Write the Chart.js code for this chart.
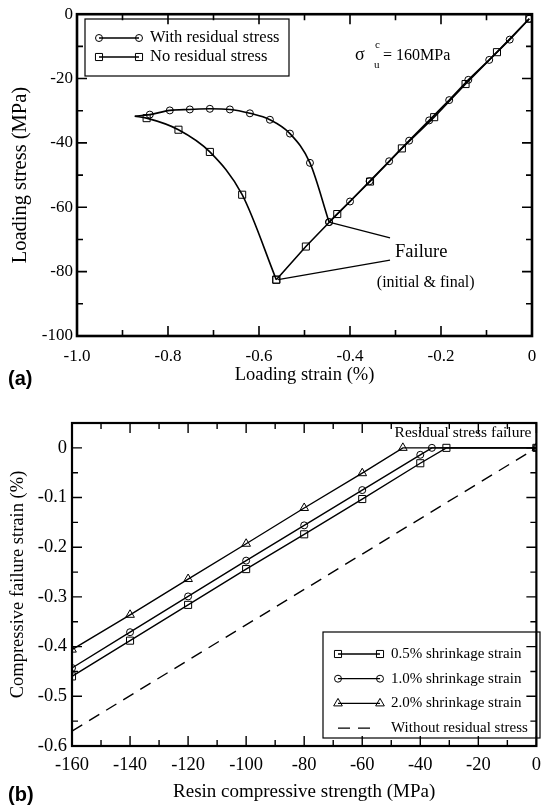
<!DOCTYPE html>
<html>
<head>
<meta charset="utf-8">
<script src="https://cdn.jsdelivr.net/npm/chart.js@4.4.1/dist/chart.umd.min.js"></script>
<style>
  html, body { margin: 0; padding: 0; background: #fff; }
  canvas { position: absolute; left: 0; }
  #chartA { top: 0; }
  #chartB { top: 400px; }
</style>
</head>
<body>
<canvas id="chartA" width="549" height="400"></canvas>
<canvas id="chartB" width="549" height="408"></canvas>
<script>
// ---------- (a) loading stress vs loading strain ----------
const withRsCurveStrain = [-0.873, -0.840, -0.796, -0.752, -0.708, -0.664, -0.620, -0.576, -0.532, -0.488, -0.446];
const withRsCurveStress = [-31.7, -31.2, -29.9, -29.6, -29.4, -29.6, -30.8, -32.8, -37.1, -46.2, -64.6];
const withRsLinStrain = [-0.446, -0.400, -0.357, -0.314, -0.270, -0.226, -0.182, -0.140, -0.094, -0.049, -0.006];
const withRsLinStress = [-64.6, -58.2, -51.9, -45.7, -39.3, -33.0, -26.7, -20.4, -14.2, -7.9, -1.4];
const noRsCurveStrain = [-0.873, -0.847, -0.777, -0.708, -0.637, -0.562];
const noRsCurveStress = [-31.7, -32.3, -35.9, -42.8, -56.1, -82.5];
const noRsLinStrain = [-0.562, -0.497, -0.428, -0.356, -0.286, -0.215, -0.146, -0.077, -0.006];
const noRsLinStress = [-82.5, -72.2, -62.1, -52.0, -41.7, -32.0, -21.7, -11.8, -1.4];

const xTicksA = [-1.0, -0.8, -0.6, -0.4, -0.2, 0];
const xTickLabelsA = ['-1.0', '-0.8', '-0.6', '-0.4', '-0.2', '0'];
const yTicksA = [-100, -80, -60, -40, -20, 0];
const yTickLabelsA = ['-100', '-80', '-60', '-40', '-20', '0'];
const legendLabelsA = ['With residual stress', 'No residual stress'];

// ---------- (b) failure strain vs resin strength ----------
const shrink05Strength = [-160, -140, -120, -100, -80, -60, -40, -31, 0];
const shrink05Strain = [-0.460, -0.388, -0.316, -0.244, -0.174, -0.103, -0.031, 0, 0];
const shrink10Strength = [-160, -140, -120, -100, -80, -60, -40, -36, 0];
const shrink10Strain = [-0.443, -0.371, -0.299, -0.227, -0.156, -0.085, -0.014, 0, 0];
const shrink20Strength = [-160, -140, -120, -100, -80, -60, -46, 0];
const shrink20Strain = [-0.406, -0.336, -0.264, -0.193, -0.121, -0.051, 0, 0];
const plainStrength = [-160, 0];
const plainStrain = [-0.57, 0];

const xTicksB = [-160, -140, -120, -100, -80, -60, -40, -20, 0];
const xTickLabelsB = ['-160', '-140', '-120', '-100', '-80', '-60', '-40', '-20', '0'];
const yTicksB = [-0.6, -0.5, -0.4, -0.3, -0.2, -0.1, 0];
const yTickLabelsB = ['-0.6', '-0.5', '-0.4', '-0.3', '-0.2', '-0.1', '0'];
const legendLabelsB = ['0.5% shrinkage strain', '1.0% shrinkage strain', '2.0% shrinkage strain', 'Without residual stress'];

const SERIF = '"Liberation Serif", "Times New Roman", serif';

function pts(xs, ys) {
  return xs.map((v, i) => ({ x: v, y: ys[i] }));
}

function marker(ctx, style, r, x, y) {
  ctx.beginPath();
  if (style === 'circle') {
    ctx.arc(x, y, r, 0, Math.PI * 2);
  } else if (style === 'rect') {
    const s = r * Math.SQRT1_2;
    ctx.rect(x - s, y - s, 2 * s, 2 * s);
  } else if (style === 'triangle') {
    ctx.moveTo(x, y - r);
    ctx.lineTo(x + r * 0.866, y + r * 0.5);
    ctx.lineTo(x - r * 0.866, y + r * 0.5);
    ctx.closePath();
  }
  ctx.stroke();
}

// frame with inward ticks, legend box, notes
const decor = {
  id: 'decor',
  afterDraw(chart, args, o) {
    const ctx = chart.ctx;
    const a = chart.chartArea;
    const xs = chart.scales.x, ys = chart.scales.y;
    ctx.save();
    ctx.strokeStyle = '#000';
    ctx.fillStyle = '#000';

    // ticks
    ctx.lineWidth = o.tickWidth;
    const eps = 1e-9;
    for (let v = o.xMin; v <= o.xMax + eps; v += o.xMinor) {
      const px = xs.getPixelForValue(v);
      const major = Math.abs(v / o.xMajor - Math.round(v / o.xMajor)) < 1e-6;
      const len = major ? 10 : 6;
      ctx.beginPath();
      ctx.moveTo(px, a.bottom); ctx.lineTo(px, a.bottom - len);
      ctx.moveTo(px, a.top); ctx.lineTo(px, a.top + len);
      ctx.stroke();
    }
    for (let v = o.yMin; v <= o.yMax + eps; v += o.yMinor) {
      const py = ys.getPixelForValue(v);
      const major = Math.abs(v / o.yMajor - Math.round(v / o.yMajor)) < 1e-6;
      const len = major ? 10 : 6;
      ctx.beginPath();
      ctx.moveTo(a.left, py); ctx.lineTo(a.left + len, py);
      ctx.moveTo(a.right, py); ctx.lineTo(a.right - len, py);
      ctx.stroke();
    }
    ctx.lineWidth = o.frameWidth;
    ctx.strokeRect(a.left, a.top, a.right - a.left, a.bottom - a.top);

    // legend
    const L = o.legend;
    ctx.lineWidth = 1.2;
    ctx.strokeRect(L.left, L.top, L.width, L.height);
    L.items.forEach((it, i) => {
      const cy = L.firstRow + i * L.rowGap;
      ctx.lineWidth = 1.3;
      ctx.setLineDash(it.dash || []);
      ctx.beginPath();
      ctx.moveTo(L.x0, cy); ctx.lineTo(it.end || L.x1, cy);
      ctx.stroke();
      ctx.setLineDash([]);
      if (it.pointStyle) {
        ctx.lineWidth = 1;
        marker(ctx, it.pointStyle, it.radius, L.x0, cy);
        marker(ctx, it.pointStyle, it.radius, L.x1, cy);
      }
      ctx.font = L.font;
      ctx.textAlign = 'left';
      ctx.textBaseline = 'middle';
      ctx.fillText(it.text, L.textX, cy);
    });

    // leader lines
    ctx.lineWidth = 1.2;
    (o.leaders || []).forEach(l => {
      ctx.beginPath();
      ctx.moveTo(xs.getPixelForValue(l[0]), ys.getPixelForValue(l[1]));
      ctx.lineTo(xs.getPixelForValue(l[2]), ys.getPixelForValue(l[3]));
      ctx.stroke();
    });

    // text notes
    (o.notes || []).forEach(n => {
      ctx.font = n.font;
      ctx.textAlign = n.align || 'left';
      ctx.textBaseline = 'middle';
      ctx.fillText(n.text, xs.getPixelForValue(n.x) + (n.dx || 0), ys.getPixelForValue(n.y) + (n.dy || 0));
    });

    // panel label
    ctx.font = 'bold 20px "Liberation Sans", Arial, sans-serif';
    ctx.textAlign = 'left';
    ctx.textBaseline = 'middle';
    ctx.fillText(o.panel[0], o.panel[1], o.panel[2]);
    ctx.restore();
  }
};

function lineSet(xs, ys, style, radius, opts) {
  return Object.assign({
    data: pts(xs, ys),
    borderColor: '#000',
    borderWidth: 1.6,
    pointStyle: style,
    pointRadius: radius,
    pointBorderWidth: 1,
    pointBorderColor: '#000',
    pointBackgroundColor: 'rgba(0,0,0,0)',
    fill: false,
    tension: 0
  }, opts || {});
}

function fixedTicks(values) {
  return scale => { scale.ticks = values.map(v => ({ value: v })); };
}

// ---------- chart (a) ----------
new Chart(document.getElementById('chartA'), {
  type: 'line',
  data: {
    datasets: [
      lineSet(withRsCurveStrain, withRsCurveStress, 'circle',
        withRsCurveStrain.map((v, i) => i === 0 ? 0 : 3.5), { cubicInterpolationMode: 'monotone' }),
      lineSet(withRsLinStrain, withRsLinStress, 'circle', 3.5),
      lineSet(noRsCurveStrain, noRsCurveStress, 'rect',
        noRsCurveStrain.map((v, i) => i === 0 ? 0 : 5), { cubicInterpolationMode: 'monotone' }),
      lineSet(noRsLinStrain, noRsLinStress, 'rect', 5)
    ]
  },
  options: {
    responsive: false,
    animation: false,
    layout: { padding: { left: 0, right: 17, top: 11, bottom: 0 } },
    plugins: {
      legend: { display: false },
      tooltip: { enabled: false },
      decor: {
        xMin: -1, xMax: 0, xMinor: 0.1, xMajor: 0.2,
        yMin: -100, yMax: 0, yMinor: 10, yMajor: 20,
        tickWidth: 1.6, frameWidth: 2.6,
        legend: {
          left: 85, top: 19, width: 204, height: 57,
          firstRow: 38, rowGap: 19, x0: 99, x1: 139, textX: 150,
          font: '16.5px ' + SERIF,
          items: [
            { text: legendLabelsA[0], pointStyle: 'circle', radius: 3.5 },
            { text: legendLabelsA[1], pointStyle: 'rect', radius: 5 }
          ]
        },
        leaders: [
          [-0.446, -64.6, -0.312, -69.5],
          [-0.558, -82.5, -0.312, -76.4]
        ],
        notes: [
          { text: 'Failure', x: -0.301, y: -73.8, font: '18.5px ' + SERIF },
          { text: '(initial & final)', x: -0.341, y: -83.4, font: '16px ' + SERIF },
          { text: 'σ', x: -0.389, y: -12.8, font: '18px ' + SERIF },
          { text: 'c', x: -0.389, y: -12.8, dx: 20, dy: -10, font: '11px ' + SERIF },
          { text: 'u', x: -0.389, y: -12.8, dx: 19, dy: 10, font: '11px ' + SERIF },
          { text: '= 160MPa', x: -0.389, y: -12.8, dx: 28, font: '16px ' + SERIF }
        ],
        panel: ['(a)', 8, 379]
      }
    },
    scales: {
      x: {
        type: 'linear', min: -1, max: 0,
        afterFit: s => { s.height = 64; },
        afterBuildTicks: fixedTicks(xTicksA),
        grid: { display: false, drawTicks: false },
        border: { display: false },
        ticks: {
          padding: 10, color: '#000', maxRotation: 0,
          font: { family: SERIF, size: 17 },
          callback: (v, i) => xTickLabelsA[i]
        },
        title: {
          display: true, text: 'Loading strain (%)', color: '#000',
          font: { family: SERIF, size: 18.5 }, padding: { top: 0, bottom: 14 }
        }
      },
      y: {
        type: 'linear', min: -100, max: 0,
        afterFit: s => { s.width = 77; },
        afterBuildTicks: fixedTicks(yTicksA),
        grid: { display: false, drawTicks: false },
        border: { display: false },
        ticks: {
          padding: 4, color: '#000',
          font: { family: SERIF, size: 17 },
          callback: (v, i) => yTickLabelsA[i]
        },
        title: {
          display: true, text: 'Loading stress (MPa)', color: '#000',
          font: { family: SERIF, size: 20.5 }, padding: { top: 8, bottom: 0 }
        }
      }
    }
  },
  plugins: [decor]
});

// ---------- chart (b) ----------
new Chart(document.getElementById('chartB'), {
  type: 'line',
  data: {
    datasets: [
      lineSet(shrink05Strength, shrink05Strain, 'rect', 5, { borderWidth: 1.4 }),
      lineSet(shrink10Strength, shrink10Strain, 'circle', 3.5, { borderWidth: 1.4 }),
      lineSet(shrink20Strength, shrink20Strain, 'triangle', 5, { borderWidth: 1.4 }),
      lineSet(plainStrength, plainStrain, 'circle', 0, { borderWidth: 1.4, borderDash: [12, 8] })
    ]
  },
  options: {
    responsive: false,
    animation: false,
    layout: { padding: { left: 0, right: 6, top: 23, bottom: 0 } },
    plugins: {
      legend: { display: false },
      tooltip: { enabled: false },
      decor: {
        xMin: -160, xMax: 0, xMinor: 10, xMajor: 20,
        yMin: -0.6, yMax: 0.05, yMinor: 0.05, yMajor: 0.1,
        tickWidth: 1.4, frameWidth: 2.2,
        legend: {
          left: 323, top: 232, width: 217, height: 106,
          firstRow: 254, rowGap: 24.7, x0: 338, x1: 380, textX: 391,
          font: '15px ' + SERIF,
          items: [
            { text: legendLabelsB[0], pointStyle: 'rect', radius: 5 },
            { text: legendLabelsB[1], pointStyle: 'circle', radius: 3.5 },
            { text: legendLabelsB[2], pointStyle: 'triangle', radius: 5 },
            { text: legendLabelsB[3], dash: [12, 8], end: 371 }
          ]
        },
        notes: [
          { text: 'Residual stress failure', x: -1.7, y: 0.030, align: 'right', font: '15.5px ' + SERIF }
        ],
        panel: ['(b)', 8, 395]
      }
    },
    scales: {
      x: {
        type: 'linear', min: -160, max: 0,
        afterFit: s => { s.height = 62; },
        afterBuildTicks: fixedTicks(xTicksB),
        grid: { display: false, drawTicks: false },
        border: { display: false },
        ticks: {
          padding: 8, color: '#000', maxRotation: 0,
          font: { family: SERIF, size: 18.5 },
          callback: (v, i) => xTickLabelsB[i]
        },
        title: {
          display: true, text: 'Resin compressive strength (MPa)', color: '#000',
          font: { family: SERIF, size: 19 }, padding: { top: 0, bottom: 5 }
        }
      },
      y: {
        type: 'linear', min: -0.6, max: 0.05,
        afterFit: s => { s.width = 72; },
        afterBuildTicks: fixedTicks(yTicksB),
        grid: { display: false, drawTicks: false },
        border: { display: false },
        ticks: {
          padding: 5, color: '#000',
          font: { family: SERIF, size: 18.5 },
          callback: (v, i) => yTickLabelsB[i]
        },
        title: {
          display: true, text: 'Compressive failure strain (%)', color: '#000',
          font: { family: SERIF, size: 18.5 }, padding: { top: 7, bottom: 0 }
        }
      }
    }
  },
  plugins: [decor]
});
</script>
</body>
</html>
